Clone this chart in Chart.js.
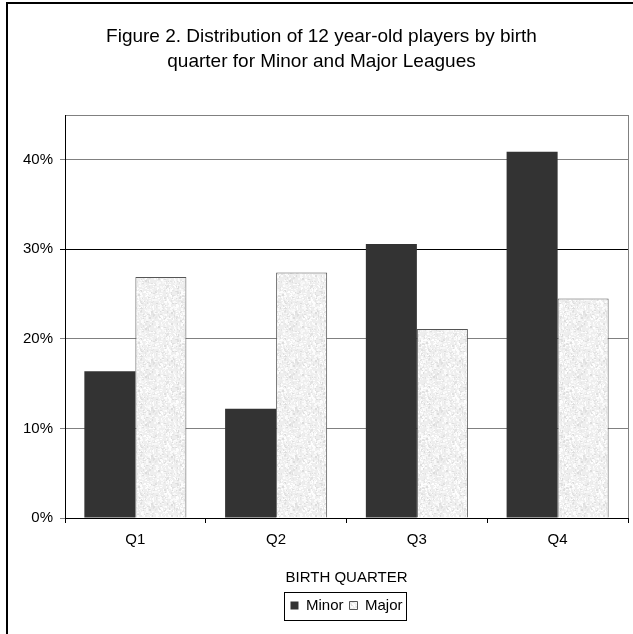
<!DOCTYPE html>
<html>
<head>
<meta charset="utf-8">
<script src="https://cdn.jsdelivr.net/npm/chart.js@4/dist/chart.umd.min.js"></script>
<style>
  html, body { margin: 0; padding: 0; background: #fff; }
  #wrap { width: 633px; height: 634px; }
</style>
</head>
<body>
<div id="wrap"><canvas id="c" width="633" height="634"></canvas></div>
<script>
// Share of 12 year-old players per birth quarter
const quarters = ['Q1', 'Q2', 'Q3', 'Q4'];
const minorShare = [0.164, 0.122, 0.306, 0.409];
const majorShare = [0.269, 0.274, 0.211, 0.245];
const seriesNames = ['Minor', 'Major'];
const titleLines = [
  'Figure 2. Distribution of 12 year-old players by birth',
  'quarter for Minor and Major Leagues'
];
const axisTitle = 'BIRTH QUARTER';
const yMax = 0.45;
const yStep = 0.1;

const FONT = 'Liberation Sans, Arial, Helvetica, sans-serif';
const canvas = document.getElementById('c');
const ctx = canvas.getContext('2d');

// Light mottled fill for the Major bars (fixed speckle tile)
function stipple() {
  const N = 48;
  const t = document.createElement('canvas');
  t.width = t.height = N;
  const g = t.getContext('2d');
  g.fillStyle = '#eeeeee';
  g.fillRect(0, 0, N, N);
  let s = 2024;
  const next = () => ((s = (s * 1103515245 + 12345) & 0x7fffffff) >> 12);
  for (let i = 0; i < 800; i++) {
    const x = next() % N, y = next() % N;
    const dark = next() % 3 === 0;
    const v = dark ? 220 + next() % 16 : 244 + next() % 12;
    g.fillStyle = `rgb(${v},${v},${v})`;
    g.fillRect(x, y, 1 + next() % 2, 1 + next() % 2);
  }
  return ctx.createPattern(t, 'repeat');
}

const isVal = (v, w) => Math.abs(v - w) < 1e-9;

// Outer frame, plot border, legend frame and centred legend
const decor = {
  id: 'decor',
  afterLayout(chart) {
    const lg = chart.legend, a = chart.chartArea;
    if (lg) { lg.left = a.left; lg.right = a.right; }
  },
  beforeDraw(chart) {
    const c = chart.ctx;
    c.save();
    c.fillStyle = '#000';
    c.fillRect(6, 2, 627, 2);
    c.fillRect(6, 2, 2, 632);
    c.restore();
  },
  afterDraw(chart) {
    const c = chart.ctx, a = chart.chartArea;
    c.save();
    c.strokeStyle = '#808080';
    c.lineWidth = 1;
    c.beginPath();
    c.moveTo(Math.round(a.right) + 0.5, a.top);
    c.lineTo(Math.round(a.right) + 0.5, a.bottom);
    c.stroke();
    const hb = chart.legend.legendHitBoxes;
    if (hb && hb.length) {
      const l = Math.min(...hb.map(b => b.left));
      const r = Math.max(...hb.map(b => b.left + b.width));
      const cy = hb[0].top + hb[0].height / 2;
      c.strokeStyle = '#000';
      c.strokeRect(Math.round(l - 6) + 0.5, Math.round(cy - 14) + 0.5, Math.round(r - l + 10), 28);
    }
    c.restore();
  }
};

new Chart(ctx, {
  type: 'bar',
  data: {
    labels: quarters,
    datasets: [
      { label: seriesNames[0], data: minorShare, backgroundColor: '#333333', borderWidth: 0 },
      { label: seriesNames[1], data: majorShare, backgroundColor: stipple(), borderColor: '#555555', borderWidth: 1 }
    ]
  },
  options: {
    responsive: false,
    animation: false,
    devicePixelRatio: 1,
    layout: { padding: { left: 15, right: 5, top: 4, bottom: 11 } },
    datasets: { bar: { categoryPercentage: 0.725, barPercentage: 1 } },
    plugins: {
      title: {
        display: true,
        text: titleLines,
        color: '#000',
        font: { family: FONT, size: 19, weight: 'normal', lineHeight: 1.316 },
        padding: { top: 20, bottom: 41 }
      },
      legend: {
        position: 'bottom',
        labels: {
          boxWidth: 8, boxHeight: 8, padding: 6, color: '#000',
          font: { family: FONT, size: 15 }
        }
      },
      tooltip: { enabled: false }
    },
    scales: {
      x: {
        grid: { offset: true, drawOnChartArea: false, drawTicks: true, tickLength: 5, color: '#000' },
        border: { color: '#000', width: 1 },
        ticks: { color: '#000', font: { family: FONT, size: 15 }, padding: 8 },
        title: {
          display: true, text: axisTitle, color: '#000',
          font: { family: FONT, size: 15 }, padding: { top: 0, bottom: 5 }
        },
        afterFit(s) { s.height = 74; }
      },
      y: {
        min: 0,
        max: yMax,
        ticks: {
          stepSize: yStep,
          color: '#000',
          font: { family: FONT, size: 15 },
          padding: 7,
          callback: v => isVal(v, yMax) ? '' : Math.round(v * 100) + '%'
        },
        grid: {
          tickLength: 5,
          color: c => (isVal(c.tick.value, 0.3) ? '#000' : '#808080'),
          tickColor: c => (isVal(c.tick.value, yMax) ? 'rgba(0,0,0,0)' : (isVal(c.tick.value, 0.3) ? '#000' : '#808080'))
        },
        border: { color: '#000', width: 1 },
        afterFit(s) { s.width = 50; }
      }
    }
  },
  plugins: [decor]
});
</script>
</body>
</html>
